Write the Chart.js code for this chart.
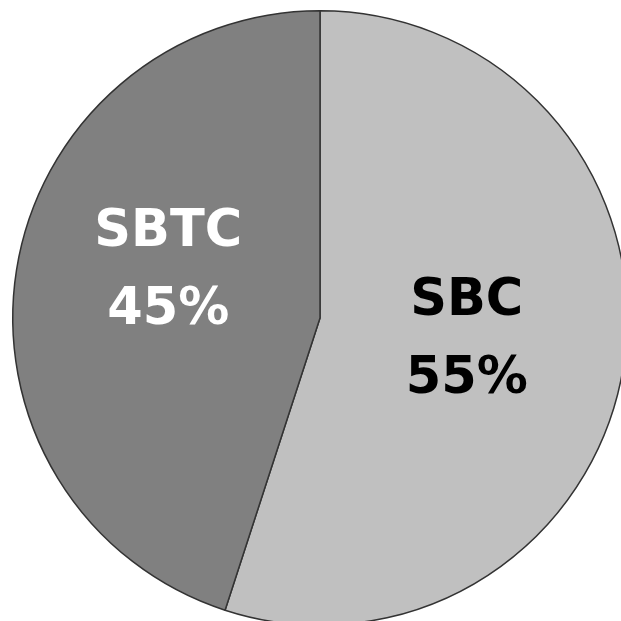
<!DOCTYPE html>
<html>
<head>
<meta charset="utf-8">
<script src="https://cdn.jsdelivr.net/npm/chart.js@4"></script>
<style>
html,body{margin:0;padding:0;background:#fff;overflow:hidden;}
#wrap{position:absolute;left:0;top:0;width:640px;height:636px;}
</style>
</head>
<body>
<div id="wrap"><canvas id="c"></canvas></div>
<script>
const categories = ["SBC", "SBTC"];
const values = [55, 45];
const sliceColors = ["#c0c0c0", "#808080"];
const labelColors = ["#000000", "#ffffff"];
const labelShiftX = [-5, 0];
const labelShiftY = [-1, -22];

const labelPlugin = {
  id: 'sliceLabels',
  afterDatasetsDraw(chart) {
    const ctx = chart.ctx;
    const meta = chart.getDatasetMeta(0);
    const total = values.reduce((a, b) => a + b, 0);
    meta.data.forEach((arc, i) => {
      const p = arc.getProps(['x', 'y', 'startAngle', 'endAngle', 'outerRadius'], true);
      const mid = (p.startAngle + p.endAngle) / 2;
      const r = p.outerRadius * 0.5;
      const x = p.x + Math.cos(mid) * r + labelShiftX[i];
      const y = p.y + Math.sin(mid) * r + labelShiftY[i];
      ctx.save();
      ctx.fillStyle = labelColors[i];
      ctx.font = 'bold 51px "DejaVu Sans"';
      ctx.textAlign = 'center';
      ctx.textBaseline = 'middle';
      ctx.fillText(categories[i], x, y - 39);
      ctx.fillText(Math.round(values[i] / total * 100) + '%', x, y + 39);
      ctx.restore();
    });
  }
};

new Chart(document.getElementById('c'), {
  type: 'pie',
  data: {
    labels: categories,
    datasets: [{
      data: values,
      backgroundColor: sliceColors,
      borderColor: '#333333',
      borderWidth: 1.5
    }]
  },
  options: {
    responsive: true,
    maintainAspectRatio: false,
    animation: false,
    layout: { padding: { left: 12, right: 12, top: 10, bottom: 10 } },
    plugins: { legend: { display: false }, tooltip: { enabled: false } }
  },
  plugins: [labelPlugin]
});
</script>
</body>
</html>
